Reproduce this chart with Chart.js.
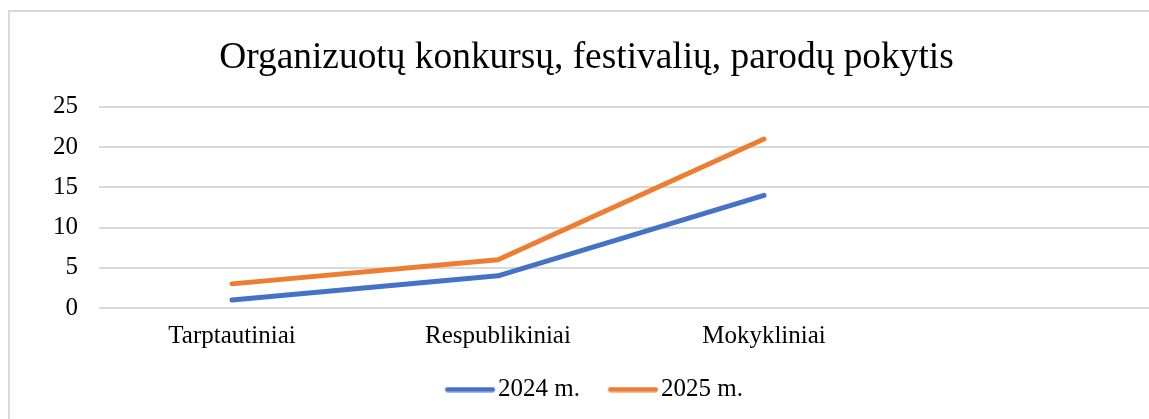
<!DOCTYPE html>
<html>
<head>
<meta charset="utf-8">
<script src="https://cdn.jsdelivr.net/npm/chart.js@4"></script>
<style>
  html, body { margin: 0; padding: 0; background: #fff; overflow: hidden; }
  #wrap {
    position: absolute; left: 8px; top: 10px;
    width: 1160px; height: 420px;
    border: 2px solid #d9d9d9; box-sizing: border-box;
  }
  #box { position: absolute; left: 0; top: 0; width: 1156px; height: 416px; }
</style>
</head>
<body>
<div id="wrap"><div id="box"><canvas id="myLineChart"></canvas></div></div>
<script>
const categories = ['Tarptautiniai', 'Respublikiniai', 'Mokykliniai', ''];
const values2024 = [1, 4, 14, null];
const values2025 = [3, 6, 21, null];
const seriesNames = ['2024 m.', '2025 m.'];
const yTicks = [0, 5, 10, 15, 20, 25];

const serif = '"Liberation Serif", "Times New Roman", serif';
Chart.defaults.font.family = serif;
Chart.defaults.color = '#000';

// legend swatch: a short thick line, drawn off-centre so the label sits close to it
function legendLine(color) {
  const c = document.createElement('canvas');
  c.width = 76;
  c.height = 6;
  const g = c.getContext('2d');
  g.strokeStyle = color;
  g.lineWidth = 5;
  g.lineCap = 'round';
  g.beginPath();
  g.moveTo(27.75, 3);
  g.lineTo(72.75, 3);
  g.stroke();
  return c;
}

const ctx = document.getElementById('myLineChart').getContext('2d');
const data = {
  labels: categories,
  datasets: [
    {
      label: seriesNames[0],
      data: values2024,
      borderColor: '#4472c4',
      backgroundColor: '#4472c4',
      borderWidth: 5,
      borderCapStyle: 'round',
      borderJoinStyle: 'round',
      pointRadius: 0,
      pointStyle: legendLine('#4472c4'),
      fill: false,
    },
    {
      label: seriesNames[1],
      data: values2025,
      borderColor: '#ed7d31',
      backgroundColor: '#ed7d31',
      borderWidth: 5,
      borderCapStyle: 'round',
      borderJoinStyle: 'round',
      pointRadius: 0,
      pointStyle: legendLine('#ed7d31'),
      fill: false,
    }
  ]
};
const config = {
  type: 'line',
  data: data,
  options: {
    responsive: true,
    maintainAspectRatio: false,
    animation: false,
    layout: { padding: { left: 0, right: 3, top: 0, bottom: 16 } },
    scales: {
      x: {
        offset: true,
        grid: { display: false, drawTicks: false },
        border: { display: false },
        ticks: { font: { size: 25 }, padding: 13, maxRotation: 0 }
      },
      y: {
        min: 0,
        max: 25,
        afterBuildTicks: (axis) => { axis.ticks = yTicks.map(v => ({value: v})); },
        afterFit: (axis) => { axis.width = 89; },
        grid: { color: '#d9d9d9', lineWidth: 2, drawTicks: false },
        border: { display: false },
        ticks: { font: { size: 25 }, padding: 21 }
      }
    },
    plugins: {
      title: {
        display: true,
        text: 'Organizuotų konkursų, festivalių, parodų pokytis',
        font: { size: 37.4, weight: 'normal' },
        padding: { top: 24, bottom: 26 }
      },
      legend: {
        position: 'bottom',
        labels: {
          usePointStyle: true,
          pointStyleWidth: 55.5,
          boxHeight: 5,
          font: { size: 25 },
          padding: 13
        }
      },
      tooltip: { enabled: false }
    }
  }
};
const myChart = new Chart(ctx, config);
</script>
</body>
</html>
